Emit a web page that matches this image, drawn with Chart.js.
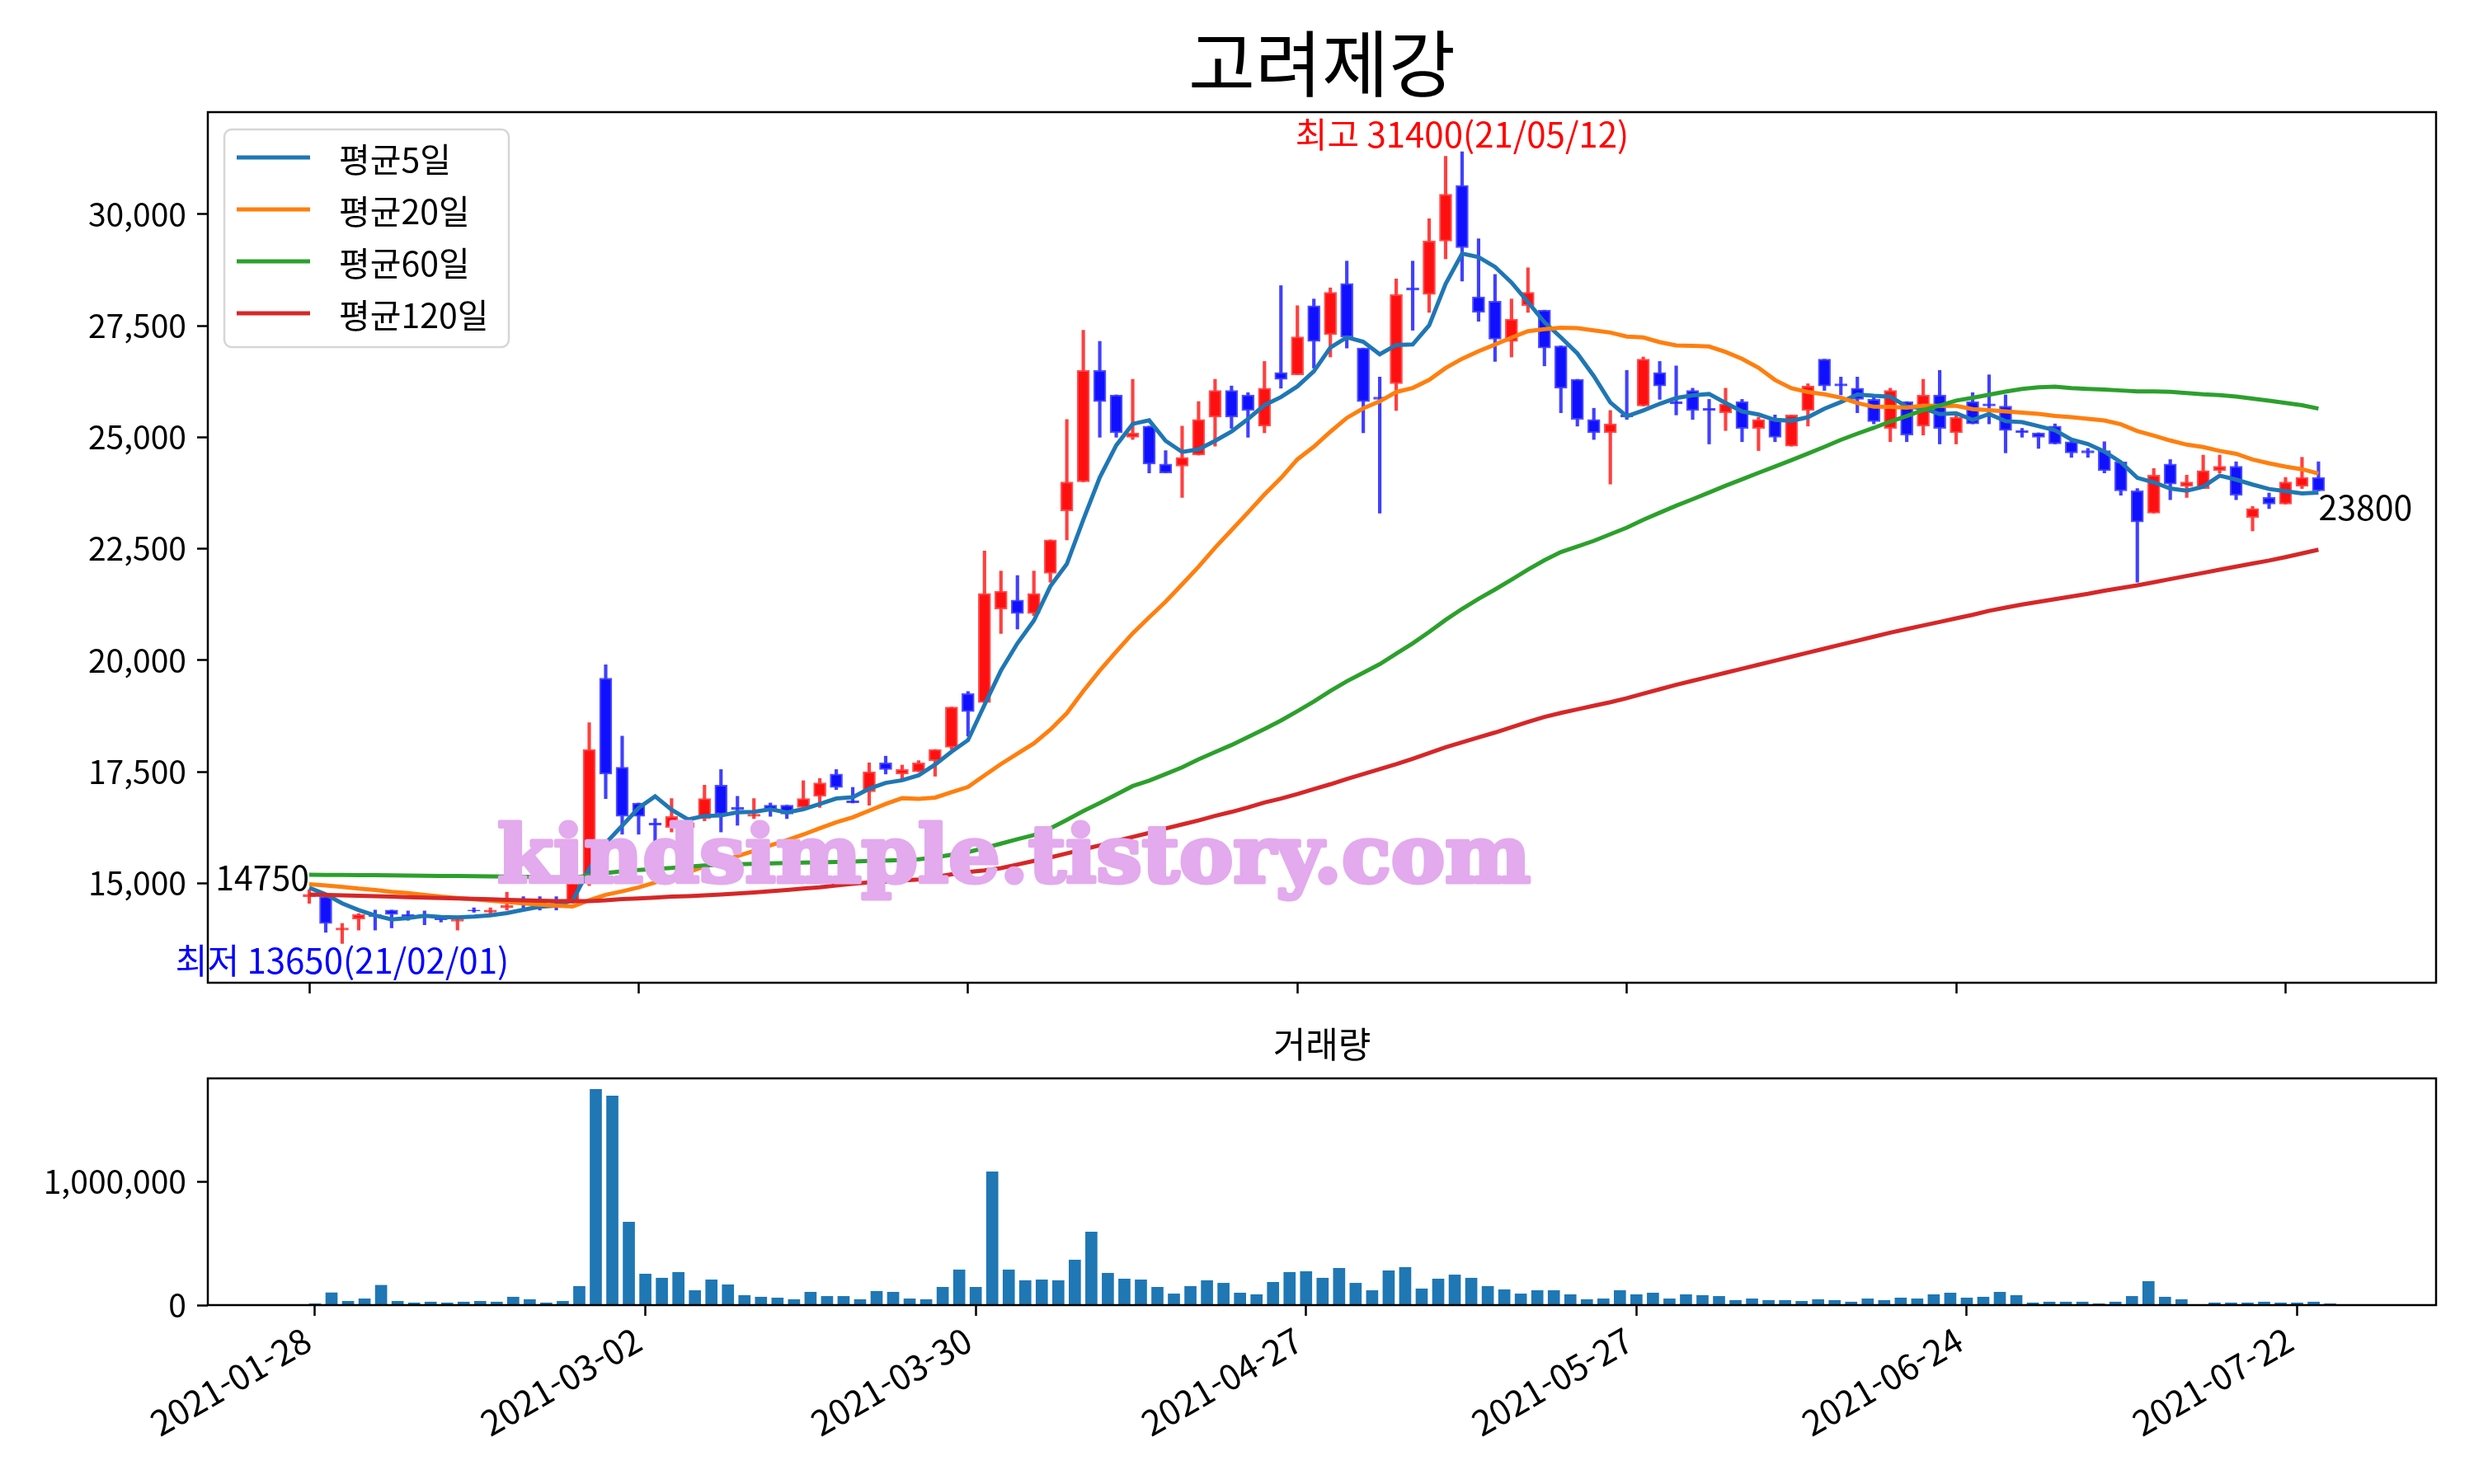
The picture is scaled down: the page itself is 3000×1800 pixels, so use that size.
<!DOCTYPE html>
<html lang="ko">
<head>
<meta charset="utf-8">
<title>고려제강</title>
<script src="https://cdn.jsdelivr.net/npm/chart.js@4.4.1/dist/chart.umd.min.js"></script>
<style>
  html, body { margin: 0; padding: 0; background: #fff; }
  body { width: 3000px; height: 1800px; position: relative; overflow: hidden; }
  canvas { position: absolute; left: 0; }
  #priceChart { top: 0; }
  #volumeChart { top: 1230px; }
</style>
</head>
<body>
<canvas id="priceChart" width="3000" height="1230"></canvas>
<canvas id="volumeChart" width="3000" height="570"></canvas>
<script>
"use strict"

const stockName = '고려제강';

const dates = [
  '2021-01-28','2021-01-29','2021-02-01','2021-02-02','2021-02-03','2021-02-04','2021-02-05','2021-02-08','2021-02-09','2021-02-10',
  '2021-02-15','2021-02-16','2021-02-17','2021-02-18','2021-02-19','2021-02-22','2021-02-23','2021-02-24','2021-02-25','2021-02-26',
  '2021-03-02','2021-03-03','2021-03-04','2021-03-05','2021-03-08','2021-03-09','2021-03-10','2021-03-11','2021-03-12','2021-03-15',
  '2021-03-16','2021-03-17','2021-03-18','2021-03-19','2021-03-22','2021-03-23','2021-03-24','2021-03-25','2021-03-26','2021-03-29',
  '2021-03-30','2021-03-31','2021-04-01','2021-04-02','2021-04-05','2021-04-06','2021-04-07','2021-04-08','2021-04-09','2021-04-12',
  '2021-04-13','2021-04-14','2021-04-15','2021-04-16','2021-04-19','2021-04-20','2021-04-21','2021-04-22','2021-04-23','2021-04-26',
  '2021-04-27','2021-04-28','2021-04-29','2021-04-30','2021-05-03','2021-05-04','2021-05-06','2021-05-07','2021-05-10','2021-05-11',
  '2021-05-12','2021-05-13','2021-05-14','2021-05-17','2021-05-18','2021-05-20','2021-05-21','2021-05-24','2021-05-25','2021-05-26',
  '2021-05-27','2021-05-28','2021-05-31','2021-06-01','2021-06-02','2021-06-03','2021-06-04','2021-06-07','2021-06-08','2021-06-09',
  '2021-06-10','2021-06-11','2021-06-14','2021-06-15','2021-06-16','2021-06-17','2021-06-18','2021-06-21','2021-06-22','2021-06-23',
  '2021-06-24','2021-06-25','2021-06-28','2021-06-29','2021-06-30','2021-07-01','2021-07-02','2021-07-05','2021-07-06','2021-07-07',
  '2021-07-08','2021-07-09','2021-07-12','2021-07-13','2021-07-14','2021-07-15','2021-07-16','2021-07-19','2021-07-20','2021-07-21',
  '2021-07-22','2021-07-23','2021-07-26'
];

const opens = [
  14700,14700,13950,14200,14300,14400,14300,14300,14230,14150, 14400,14350,14450,14600,14600,14550,14600,15000,19600,17600,
  16800,16350,16250,16250,16450,17200,16700,16500,16750,16750, 16700,16950,17450,16850,17050,17700,17450,17500,17750,18050,
  19250,19050,21150,21350,21050,21950,23350,24000,26500,25950, 25000,25250,24400,24350,24600,25450,26050,25950,25250,26450,
  26400,27950,27300,28450,27000,25900,26200,28350,28200,29400, 30650,28150,28050,27150,27950,27850,27050,26300,25400,25100,
  25500,25700,26450,25800,26050,25650,25550,25800,25200,25400, 24800,25600,26750,26200,26100,25850,25200,25800,25250,25950,
  25100,25800,25750,25700,25150,25100,25250,24900,24700,24700, 24450,23800,23300,24400,23900,23850,24250,24350,23200,23650,
  23500,23900,24100
];
const highs = [
  14850,14700,14100,14320,14400,14400,14380,14380,14250,14230, 14450,14450,14800,14700,14700,14700,15050,18600,19900,18300,
  16800,16450,16900,16400,17200,17550,16950,16900,16800,16750, 17300,17350,17550,17150,17700,17850,17650,17750,18000,18950,
  19300,22450,22000,21900,22000,22700,25400,27400,27150,25950, 26300,25250,24700,25250,25800,26300,26150,26000,26700,28400,
  27950,28100,28350,28950,27000,26350,28550,28950,29900,31300, 31400,29450,28650,28100,28800,27850,27050,26300,25650,25600,
  26500,26800,26700,26600,26100,25850,26100,25850,25450,25500, 25500,26200,26750,26350,26350,25900,26100,25800,26300,26500,
  25500,26000,26400,25950,25200,25100,25300,24950,24750,24900, 24450,23850,24300,24500,24150,24600,24600,24450,23450,23750,
  24100,24550,24450
];
const lows = [
  14550,13900,13650,13950,13950,14000,14170,14070,14130,13950, 14350,14320,14400,14450,14400,14400,14550,14950,16900,16100,
  16100,15900,16150,16200,16400,16150,16300,16450,16500,16450, 16650,16700,17100,16800,16750,17450,17300,17500,17400,18000,
  18300,19050,20600,20700,21000,21750,22700,24000,25000,25000, 24950,24200,24200,23650,24600,24800,25200,25000,25100,26100,
  26400,26550,26800,27000,25100,23300,25600,27400,27800,29000, 28500,27600,26700,26800,27800,26600,25550,25250,24950,23950,
  25400,25700,25850,25500,25400,24850,25150,24900,24700,24900, 24800,25250,26050,25950,25550,25300,24900,24900,25050,24850,
  24850,25300,25300,24650,25000,24750,24850,24550,24550,24200, 23700,21750,23300,23600,23650,23850,24200,23600,22900,23400,
  23500,23850,23800
];
const closes = [
  14750,14100,14000,14300,14250,14300,14250,14250,14180,14200, 14380,14400,14500,14550,14550,14500,15000,18000,17450,16500,
  16500,16300,16500,16350,16900,16550,16650,16550,16650,16550, 16900,17250,17150,16800,17500,17550,17550,17700,18000,18950,
  18850,21500,21550,21050,21500,22700,24000,26500,25800,25100, 25100,24400,24200,24550,25400,26050,25450,25600,26100,26300,
  27250,27150,28250,27250,25800,25850,28200,28300,29400,30450, 29250,27800,27200,27650,28250,27000,26100,25400,25100,25300,
  25450,26750,26150,25750,25600,25600,25750,25200,25400,25000, 25500,26150,26150,26150,25850,25350,26050,25050,25950,25200,
  25450,25300,25700,25150,25100,25000,24850,24650,24650,24250, 23800,23100,24150,23950,24000,24250,24350,23700,23400,23500,
  24000,24100,23800
];
const volumes = [
  11000,100000,31000,51000,161000,31000,18000,25000,18000,25000, 31000,25000,65000,45000,18000,31000,152000,1751000,1698000,674000,
  252000,219000,266000,118000,205000,165000,78000,65000,58000,45000, 105000,71000,71000,45000,112000,105000,51000,45000,145000,286000,
  145000,1082000,286000,199000,205000,199000,366000,593000,259000,212000, 205000,145000,91000,152000,199000,178000,98000,85000,185000,266000,
  272000,219000,299000,178000,118000,279000,306000,132000,212000,245000, 219000,152000,125000,91000,118000,118000,85000,45000,51000,118000,
  85000,98000,51000,85000,78000,71000,38000,51000,38000,38000, 31000,45000,38000,25000,51000,38000,58000,51000,85000,98000,
  58000,65000,105000,78000,18000,25000,25000,25000,11000,25000, 71000,192000,65000,45000,4000,18000,18000,18000,25000,18000,
  18000,25000,11000
];

const ma5 = [
  14900,14750,14550,14400,14280,14190,14220,14270,14246,14236, 14252,14282,14332,14406,14476,14500,14620,15320,15900,16290,
  16690,16950,16650,16430,16510,16520,16590,16600,16660,16590, 16660,16780,16900,16930,17120,17250,17310,17420,17660,17950,
  18210,19000,19770,20380,20890,21660,22160,23150,24100,24820, 25300,25380,24920,24670,24730,24920,25130,25410,25720,25900,
  26140,26480,27010,27240,27140,26860,27070,27080,27510,28440, 29120,29040,28820,28470,28030,27580,27240,26880,26370,25780,
  25470,25600,25750,25880,25940,25970,25770,25580,25510,25390, 25370,25450,25640,25790,25960,25930,25910,25690,25650,25520,
  25540,25390,25520,25360,25340,25250,25160,24950,24850,24680, 24440,24090,23990,23850,23800,23890,24140,24050,23940,23840,
  23790,23740,23760
];
const ma20 = [
  14980,14950,14920,14880,14850,14810,14780,14740,14700,14670, 14640,14610,14580,14550,14520,14500,14480,14620,14740,14820,
  14908,15018,15143,15246,15378,15491,15611,15726,15849,15967, 16093,16235,16368,16480,16628,16780,16908,16893,16920,17043,
  17160,17420,17673,17908,18138,18445,18813,19310,19768,20195, 20605,20963,21315,21703,22098,22523,22918,23313,23718,24085,
  24505,24788,25123,25433,25648,25805,26015,26105,26285,26553, 26760,26930,27080,27235,27378,27425,27458,27448,27398,27348,
  27258,27238,27133,27058,27048,27035,26913,26758,26558,26285, 26098,26015,25963,25888,25768,25685,25683,25665,25708,25703,
  25703,25630,25608,25578,25553,25523,25478,25450,25413,25375, 25290,25138,25038,24928,24835,24780,24695,24628,24500,24415,
  24343,24283,24188
];
const ma60 = [
  15190,15188,15185,15182,15180,15177,15174,15170,15166,15162, 15158,15153,15148,15143,15138,15130,15125,15180,15230,15270,
  15300,15320,15345,15370,15400,15415,15425,15435,15445,15455, 15462,15470,15478,15486,15500,15510,15520,15540,15580,15640,
  15700,15790,15890,15990,16080,16230,16420,16620,16800,16990, 17180,17300,17450,17600,17780,17940,18100,18280,18460,18649,
  18858,19075,19313,19529,19721,19914,20146,20380,20634,20905, 21153,21376,21588,21806,22034,22243,22428,22551,22678,22825,
  22974,23148,23309,23466,23611,23762,23913,24058,24203,24344, 24488,24636,24786,24942,25081,25211,25353,25475,25608,25712,
  25822,25885,25954,26023,26083,26121,26135,26104,26085,26071, 26049,26028,26027,26017,25993,25963,25945,25913,25868,25822,
  25768,25717,25643
];
const ma120 = [
  14750,14740,14730,14720,14710,14700,14690,14680,14670,14660, 14650,14640,14630,14620,14610,14600,14600,14600,14620,14645,
  14660,14680,14700,14712,14730,14750,14770,14795,14820,14850, 14880,14910,14950,14990,15020,15040,15060,15085,15140,15200,
  15250,15290,15340,15420,15500,15580,15670,15760,15850,15950, 16040,16130,16230,16320,16410,16510,16600,16700,16810,16900,
  17000,17110,17220,17340,17450,17560,17670,17790,17920,18050, 18160,18270,18380,18500,18620,18730,18820,18900,18980,19060,
  19150,19250,19350,19450,19540,19630,19720,19810,19900,19990, 20080,20170,20260,20350,20440,20530,20620,20700,20780,20860,
  20940,21020,21110,21180,21250,21310,21370,21430,21490,21560, 21620,21680,21750,21820,21890,21960,22030,22100,22170,22236,
  22313,22396,22478
];

const priceTicks = [15000, 17500, 20000, 22500, 25000, 27500, 30000];
const volumeTicks = [0, 1000000];
const dateTicks = [0, 20, 40, 60, 80, 100, 120];

const FONT = "'Noto Sans CJK KR', 'Noto Sans', sans-serif";
const maSeries = [
  { label: '평균5일', values: ma5, color: '#1f77b4' },
  { label: '평균20일', values: ma20, color: '#ff7f0e' },
  { label: '평균60일', values: ma60, color: '#2ca02c' },
  { label: '평균120일', values: ma120, color: '#d62728' }
];

Chart.defaults.font.family = FONT;
Chart.defaults.font.size = 39;
Chart.defaults.color = '#000';

document.addEventListener("DOMContentLoaded", () => {
  drawPriceChart();
  drawVolumeChart();
});

// matplotlib style box around the plot area
const frameBox = {
  id: 'frameBox',
  afterDraw(chart) {
    const { ctx, chartArea: a } = chart;
    ctx.save();
    ctx.strokeStyle = '#000';
    ctx.lineWidth = 2.5;
    ctx.strokeRect(a.left, a.top, a.right - a.left, a.bottom - a.top);
    ctx.restore();
  }
};

function shortDate(d) {
  return d.slice(2).replace(/-/g, '/');
}

const priceNotes = {
  id: 'priceNotes',
  afterDraw(chart) {
    const { ctx, chartArea: a, scales: { x, y } } = chart;
    ctx.save();

    ctx.fillStyle = '#000';
    ctx.font = `88px ${FONT}`;
    ctx.textAlign = 'center';
    ctx.textBaseline = 'middle';
    ctx.fillText(stockName, (a.left + a.right) / 2, 77);

    // watermark
    const mark = 'kindsimple.tistory.com';
    ctx.font = "bold 96px 'DejaVu Serif'";
    const w = ctx.measureText(mark).width;
    ctx.save();
    ctx.translate(603, 1070);
    ctx.scale(1253 / w, 1);
    ctx.fillStyle = '#e3aaee';
    ctx.strokeStyle = '#e3aaee';
    ctx.lineWidth = 5;
    ctx.lineJoin = 'round';
    ctx.textAlign = 'left';
    ctx.textBaseline = 'alphabetic';
    ctx.strokeText(mark, 0, 0);
    ctx.fillText(mark, 0, 0);
    ctx.restore();

    // highest / lowest
    let hi = 0, lo = 0;
    highs.forEach((v, i) => { if (v > highs[hi]) hi = i; });
    lows.forEach((v, i) => { if (v < lows[lo]) lo = i; });
    ctx.font = `42px ${FONT}`;
    ctx.textAlign = 'center';
    ctx.fillStyle = '#ff0000';
    ctx.textBaseline = 'bottom';
    ctx.fillText(`최고 ${highs[hi]}(${shortDate(dates[hi])})`, x.getPixelForValue(hi), y.getPixelForValue(highs[hi]));
    ctx.fillStyle = '#0000ff';
    ctx.textBaseline = 'top';
    ctx.fillText(`최저 ${lows[lo]}(${shortDate(dates[lo])})`, x.getPixelForValue(lo), y.getPixelForValue(lows[lo]));

    // first and last close
    const last = closes.length - 1;
    ctx.font = `41px ${FONT}`;
    ctx.fillStyle = '#000';
    ctx.textAlign = 'right';
    ctx.textBaseline = 'bottom';
    ctx.fillText(String(closes[0]), x.getPixelForValue(0), y.getPixelForValue(closes[0]));
    ctx.textAlign = 'left';
    ctx.textBaseline = 'top';
    ctx.fillText(String(closes[last]), x.getPixelForValue(last), y.getPixelForValue(closes[last]));

    // legend
    ctx.beginPath();
    ctx.roundRect(272, 157, 345, 264, 9);
    ctx.fillStyle = 'rgba(255,255,255,0.8)';
    ctx.fill();
    ctx.strokeStyle = '#d6d6d6';
    ctx.lineWidth = 2.5;
    ctx.stroke();
    ctx.font = `41px ${FONT}`;
    ctx.textAlign = 'left';
    ctx.textBaseline = 'middle';
    maSeries.forEach((s, k) => {
      const ly = 191 + k * 63;
      ctx.strokeStyle = s.color;
      ctx.lineWidth = 5;
      ctx.beginPath();
      ctx.moveTo(287, ly);
      ctx.lineTo(376, ly);
      ctx.stroke();
      ctx.fillStyle = '#000';
      ctx.fillText(s.label, 411, ly + 2);
    });
    ctx.restore();
  }
};

const volumeTitle = {
  id: 'volumeTitle',
  afterDraw(chart) {
    const { ctx, chartArea: a } = chart;
    ctx.save();
    ctx.fillStyle = '#000';
    ctx.font = `43px ${FONT}`;
    ctx.textAlign = 'center';
    ctx.textBaseline = 'middle';
    ctx.fillText('거래량', (a.left + a.right) / 2, 37);
    ctx.restore();
  }
};

const tickGrid = {
  display: true, drawOnChartArea: false, drawTicks: true, offset: false,
  tickLength: 13, tickWidth: 2.5, tickColor: '#000', color: '#000'
};

function drawPriceChart() {
  const up = closes.map((c, i) => c >= opens[i]);
  const lineSet = (s, order) => ({
    type: 'line',
    label: s.label,
    order: order,
    data: s.values.map((v, i) => ({ x: i, y: v })),
    borderColor: s.color,
    borderWidth: 5,
    pointRadius: 0,
    tension: 0,
    fill: false
  });
  const options = {
    type: 'bar',
    data: {
      datasets: [
        lineSet(maSeries[0], 3),
        lineSet(maSeries[1], 2),
        lineSet(maSeries[2], 1),
        lineSet(maSeries[3], 0),
        {
          label: 'wick', order: 5, grouped: false, barThickness: 3.5,
          data: lows.map((v, i) => ({ x: i, y: [v, highs[i]] })),
          backgroundColor: ctx => up[ctx.dataIndex] ? 'rgba(255,30,30,0.85)' : 'rgba(30,30,255,0.85)'
        },
        {
          label: 'body', order: 4, grouped: false, barThickness: 15,
          data: opens.map((v, i) => ({ x: i, y: [v, closes[i]] })),
          backgroundColor: ctx => up[ctx.dataIndex] ? '#ff1010' : '#1010ff',
          borderColor: ctx => up[ctx.dataIndex] ? 'rgba(255,60,60,0.9)' : 'rgba(60,60,255,0.9)',
          borderWidth: 2,
          borderSkipped: false
        }
      ]
    },
    options: {
      responsive: false,
      animation: false,
      layout: { padding: { top: 136, right: 46, bottom: 0, left: 0 } },
      plugins: { legend: { display: false }, tooltip: { enabled: false } },
      scales: {
        x: {
          type: 'linear', min: -6.16, max: 129.14, offset: false,
          grid: tickGrid,
          border: { display: false },
          ticks: { display: false },
          afterBuildTicks: s => { s.ticks = dateTicks.map(v => ({ value: v })); },
          afterFit: s => { s.height = 38; }
        },
        y: {
          type: 'linear', min: 12770, max: 32290, beginAtZero: false,
          grid: tickGrid,
          border: { display: false },
          ticks: { padding: 13, callback: v => v.toLocaleString('en-US') },
          afterBuildTicks: s => { s.ticks = priceTicks.map(v => ({ value: v })); },
          afterFit: s => { s.width = 252; }
        }
      }
    },
    plugins: [frameBox, priceNotes]
  };
  new Chart(document.getElementById('priceChart'), options);
}

function drawVolumeChart() {
  const options = {
    type: 'bar',
    data: {
      datasets: [{
        label: '거래량',
        data: volumes.map((v, i) => ({ x: i, y: v })),
        backgroundColor: '#1f77b4',
        barThickness: 14
      }]
    },
    options: {
      responsive: false,
      animation: false,
      layout: { padding: { top: 78, right: 46, bottom: 0, left: 0 } },
      plugins: { legend: { display: false }, tooltip: { enabled: false } },
      scales: {
        x: {
          type: 'linear', min: -6.49, max: 128.41, offset: false,
          grid: tickGrid,
          border: { display: false },
          ticks: {
            autoSkip: false, minRotation: 30, maxRotation: 30, padding: 4, labelOffset: -9,
            font: { size: 42 }, callback: v => dates[v]
          },
          afterBuildTicks: s => { s.ticks = dateTicks.map(v => ({ value: v })); },
          afterFit: s => { s.height = 217; }
        },
        y: {
          type: 'linear', min: 0, max: 1840000,
          grid: tickGrid,
          border: { display: false },
          ticks: { padding: 13, callback: v => v.toLocaleString('en-US') },
          afterBuildTicks: s => { s.ticks = volumeTicks.map(v => ({ value: v })); },
          afterFit: s => { s.width = 252; }
        }
      }
    },
    plugins: [frameBox, volumeTitle]
  };
  new Chart(document.getElementById('volumeChart'), options);
}
</script>
</body>
</html>
